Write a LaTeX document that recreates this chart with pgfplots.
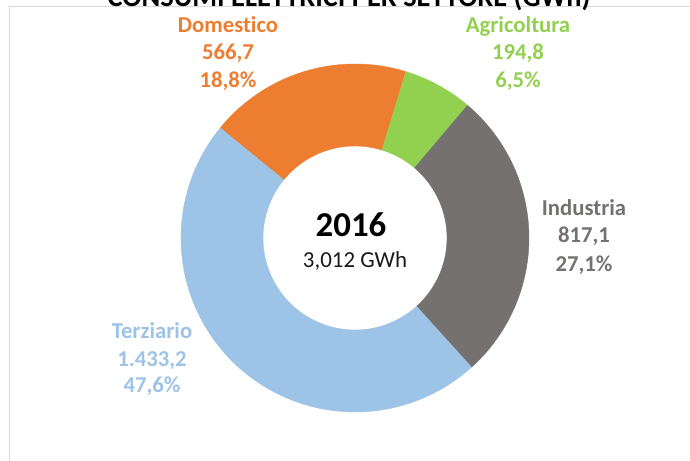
\documentclass[border=0pt]{standalone}
\usepackage{fontspec}
\setmainfont{Carlito}[Ligatures=NoCommon]
\usepackage{pgfplots}
\usepackage{pgfplotstable}
\pgfplotsset{compat=1.18}
\definecolor{cDom}{HTML}{ED7D31}
\definecolor{cAgr}{HTML}{92D050}
\definecolor{cInd}{HTML}{767171}
\definecolor{cTer}{HTML}{9DC3E6}
\definecolor{cFrame}{HTML}{D9D9D9}

\pgfplotstableread{
name value
Domestico 566.7
Agricoltura 194.8
Industria 817.1
Terziario 1433.2
}\consumi

\pgfplotstablegetelem{0}{value}\of\consumi \let\vA\pgfplotsretval
\pgfplotstablegetelem{1}{value}\of\consumi \let\vB\pgfplotsretval
\pgfplotstablegetelem{2}{value}\of\consumi \let\vC\pgfplotsretval
\pgfplotstablegetelem{3}{value}\of\consumi \let\vD\pgfplotsretval
\pgfmathsetmacro\tot{\vA+\vB+\vC+\vD}
\pgfmathsetmacro\aA{140.8}
\pgfmathsetmacro\aB{\aA-360*(\vA/\tot)}
\pgfmathsetmacro\aC{\aB-360*(\vB/\tot)}
\pgfmathsetmacro\aD{\aC-360*(\vC/\tot)}
\pgfmathsetmacro\aE{\aD-360*(\vD/\tot)}

% annular sector: colour, start angle, end angle
\newcommand{\sector}[3]{%
\addplot[fill=#1, draw=#1, line width=0.4bp, samples at={0,...,200}, variable=\t]
 ({355+ifthenelse(\t<=100,174,92)*cos(ifthenelse(\t<=100,(#2)+((#3)-(#2))*\t/100,(#3)+((#2)-(#3))*(\t-101)/99))},
  {223+ifthenelse(\t<=100,174,92)*sin(ifthenelse(\t<=100,(#2)+((#3)-(#2))*\t/100,(#3)+((#2)-(#3))*(\t-101)/99))});
}

\newcommand{\lab}[3]{\node[anchor=base, text=#1, font=\fontsize{22.8}{26}\selectfont\bfseries] at (axis cs:#2) {#3};}

\begin{document}
\begin{tikzpicture}
\path[use as bounding box] (0,0) rectangle (690bp,461bp);
\begin{axis}[width=690bp, height=461bp, scale only axis, hide axis,
  xmin=0, xmax=690, ymin=0, ymax=461, clip=false, at={(0,0)}, anchor=south west]
\draw[cFrame, line width=1bp] (axis cs:9,0) -- (axis cs:9,454) -- (axis cs:690,454);
\node[anchor=base, font=\fontsize{28.5}{32}\selectfont\bfseries] at (axis cs:349,454) {CONSUMI ELETTRICI PER SETTORE (GWh)};

\sector{cDom}{\aA}{\aB}
\sector{cAgr}{\aB}{\aC}
\sector{cInd}{\aC}{\aD}
\sector{cTer}{\aD}{\aE}

\lab{cDom}{228,428}{Domestico}
\lab{cDom}{228,401}{566,7}
\lab{cDom}{228,373}{18,8\%}
\lab{cAgr}{518,428}{Agricoltura}
\lab{cAgr}{518,401}{194,8}
\lab{cAgr}{518,373}{6,5\%}
\lab{cInd}{584,245}{Industria}
\lab{cInd}{584,218}{817,1}
\lab{cInd}{584,189}{27,1\%}
\lab{cTer}{152,122}{Terziario}
\lab{cTer}{152,94}{1.433,2}
\lab{cTer}{152,68}{47,6\%}

\node[anchor=base, font=\fontsize{35}{40}\selectfont\bfseries] at (axis cs:351,224) {2016};
\node[anchor=base, text=black!90, font=\fontsize{23}{26}\selectfont] at (axis cs:355,193) {3,012 GWh};
\end{axis}
\end{tikzpicture}
\end{document}
